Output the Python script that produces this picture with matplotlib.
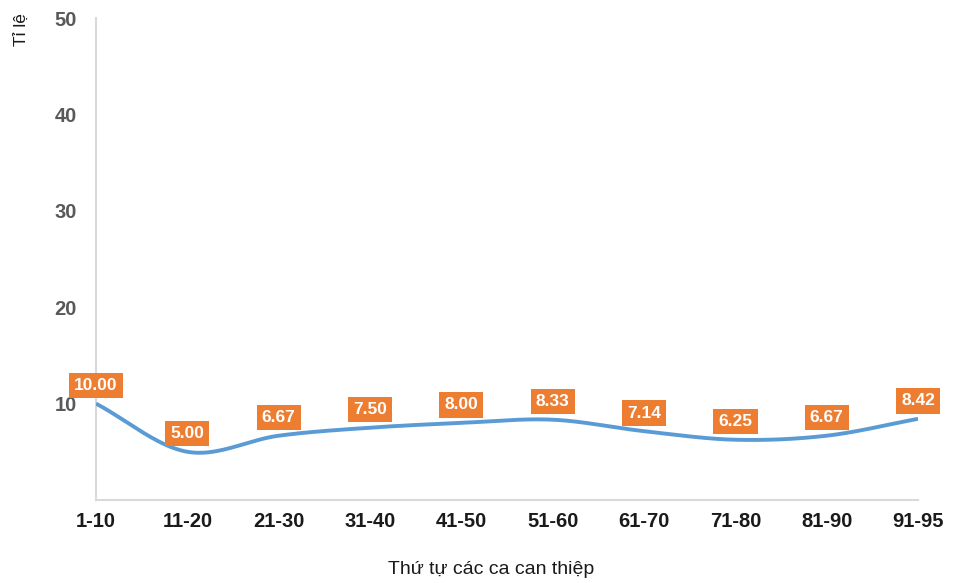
import numpy as np
import matplotlib
matplotlib.use("Agg")
import matplotlib.pyplot as plt

plt.rcParams['font.family'] = ['Liberation Sans', 'DejaVu Sans']

categories = ["1-10", "11-20", "21-30", "31-40", "41-50",
              "51-60", "61-70", "71-80", "81-90", "91-95"]
values = [10.00, 5.00, 6.67, 7.50, 8.00, 8.33, 7.14, 6.25, 6.67, 8.42]
y_ticks = [10, 20, 30, 40, 50]


def smooth_curve(x, y, n=40):
    """Catmull-Rom spline through the data points (Excel-style smoothed line)."""
    x = np.asarray(x, float)
    y = np.asarray(y, float)
    px = np.concatenate([[2 * x[0] - x[1]], x, [2 * x[-1] - x[-2]]])
    py = np.concatenate([[2 * y[0] - y[1]], y, [2 * y[-1] - y[-2]]])
    xs, ys = [], []
    t = np.linspace(0, 1, n, endpoint=False)
    for i in range(1, len(px) - 2):
        p0, p1, p2, p3 = (np.array([px[j], py[j]]) for j in range(i - 1, i + 3))
        tt = t[:, None]
        pts = 0.5 * ((2 * p1) + (-p0 + p2) * tt + (2 * p0 - 5 * p1 + 4 * p2 - p3) * tt ** 2
                     + (-p0 + 3 * p1 - 3 * p2 + p3) * tt ** 3)
        xs.extend(pts[:, 0])
        ys.extend(pts[:, 1])
    xs.append(x[-1])
    ys.append(y[-1])
    return np.array(xs), np.array(ys)


fig = plt.figure(figsize=(9.55, 5.83), dpi=100)
ax = fig.add_axes([0.1005, 0.1424, 0.8608, 0.8266])

xpos = np.arange(len(categories))
sx, sy = smooth_curve(xpos, values)
ax.plot(sx, sy, color="#5B9BD5", linewidth=2.8, solid_capstyle="butt", zorder=3)

for xi, v in zip(xpos, values):
    ax.annotate(f"{v:.2f}", xy=(xi, v), xytext=(0, 18), textcoords="offset pixels",
                ha="center", va="center", color="white", fontsize=12.5, fontweight="bold",
                bbox=dict(boxstyle="square,pad=0.3", facecolor="#ED7D31", edgecolor="none"),
                zorder=4, annotation_clip=False)

ax.set_xlim(0, len(categories) - 1)
ax.set_ylim(0, 50)
ax.set_xticks(xpos)
ax.set_xticklabels(categories, fontsize=14.5, fontweight="bold", color="#1a1a1a")
ax.set_yticks(y_ticks)
ax.set_yticklabels([str(t) for t in y_ticks], fontsize=14.5, fontweight="bold", color="#595959")
ax.tick_params(axis="both", length=0)
ax.tick_params(axis="x", pad=9)
ax.tick_params(axis="y", pad=14)

for side in ("top", "right"):
    ax.spines[side].set_visible(False)
for side in ("left", "bottom"):
    ax.spines[side].set_color("#D9D9D9")
    ax.spines[side].set_linewidth(1.5)

fig.text(0.514, 0.008, "Thứ tự các ca can thiệp", ha="center", va="bottom",
         fontsize=14, color="#1a1a1a")
fig.text(0.023, 0.978, "Tỉ lệ", ha="center", va="top", rotation=90,
         fontsize=12.5, color="#1a1a1a")

fig.savefig("out.png", dpi=100)
